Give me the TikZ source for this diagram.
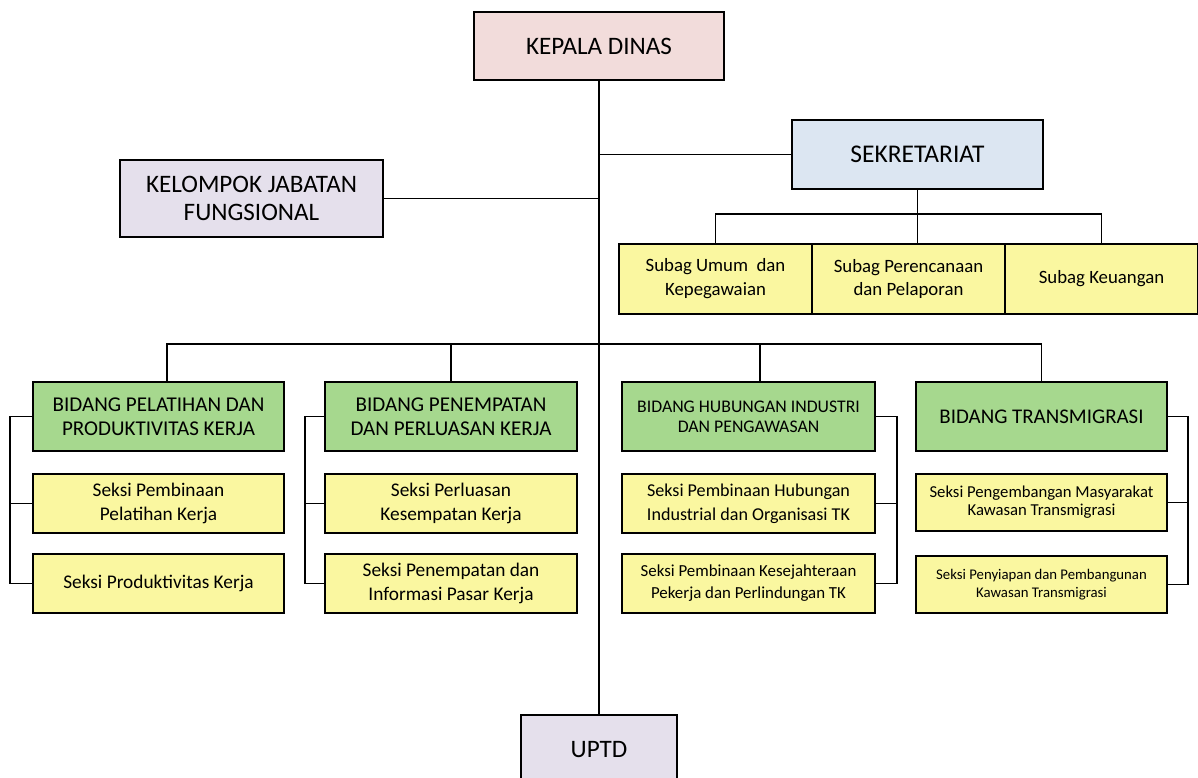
\documentclass[tikz,border=0pt]{standalone}
\usepackage{fontspec}
\setmainfont{Carlito}
\usepackage{tikz}

\definecolor{kdpink}{HTML}{F2DCDB}
\definecolor{sekblue}{HTML}{DCE6F2}
\definecolor{lavender}{HTML}{E5E0EC}
\definecolor{bidgreen}{HTML}{A6D88E}
\definecolor{seksiyel}{HTML}{FAF7A0}

\newcommand{\px}{0.02cm}
\newcommand{\fs}[2]{\fontsize{#1}{#2}\selectfont}

\tikzset{
    box/.style={draw, line width=1.4pt, align=center, inner sep=0pt},
    link/.style={line width=0.6pt},
}

\begin{document}
\begin{tikzpicture}[x=0.02cm, y=-0.02cm]
            \useasboundingbox (0,0) rectangle (1198,778);

            % Top level
            \node at (599,46) [box, fill=kdpink, minimum width=250*\px, minimum height=68*\px, font=\fs{14.3}{16}] (KD) {KEPALA DINAS};
            \node at (917.5,154.5) [box, fill=sekblue, minimum width=251*\px, minimum height=69*\px, font=\fs{14.5}{15}] (SEK) {SEKRETARIAT};
            \node at (251.5,198.5) [box, fill=lavender, minimum width=263*\px, minimum height=77*\px, font=\fs{14.3}{16.4}] (KJF) {KELOMPOK JABATAN\\FUNGSIONAL};
            \node at (599,750) [box, fill=lavender, minimum width=156*\px, minimum height=70*\px, font=\fs{14.3}{16}] (UPTD) {UPTD};

            % Subag boxes
            \node at (715.5,279) [box, fill=seksiyel, minimum width=193*\px, minimum height=70*\px, font=\fs{10.7}{13.6}] (SU) {Subag Umum~ dan\\Kepegawaian};
            \node at (908.5,279) [box, fill=seksiyel, minimum width=193*\px, minimum height=70*\px, font=\fs{10.7}{13.6}] (SP) {Subag Perencanaan\\dan Pelaporan};
            \node at (1101.5,279) [box, fill=seksiyel, minimum width=193*\px, minimum height=70*\px, font=\fs{10.7}{13.6}] (SK) {Subag Keuangan};

            % Bidang boxes
            \node at (158.5,416.5) [box, fill=bidgreen, minimum width=251*\px, minimum height=69*\px, font=\fs{12}{13.6}] (B1) {BIDANG PELATIHAN DAN\\PRODUKTIVITAS KERJA};
            \node at (451,416.5) [box, fill=bidgreen, minimum width=252*\px, minimum height=69*\px, font=\fs{12}{13.6}] (B2) {BIDANG PENEMPATAN\\DAN PERLUASAN KERJA};
            \node at (748.5,416.5) [box, fill=bidgreen, minimum width=253*\px, minimum height=69*\px, font=\fs{10.1}{11.4}] (B3) {BIDANG HUBUNGAN INDUSTRI\\DAN PENGAWASAN};
            \node at (1041.5,416.5) [box, fill=bidgreen, minimum width=251*\px, minimum height=69*\px, font=\fs{11.9}{13.6}] (B4) {BIDANG TRANSMIGRASI};

            % Seksi boxes
            \node at (158.5,503.5) [box, fill=seksiyel, minimum width=251*\px, minimum height=59*\px, font=\fs{11}{13.6}] (S11) {Seksi Pembinaan\\Pelatihan Kerja};
            \node at (158.5,583.5) [box, fill=seksiyel, minimum width=251*\px, minimum height=59*\px, font=\fs{11}{13.6}] (S12) {Seksi Produktivitas Kerja};
            \node at (451,503.5) [box, fill=seksiyel, minimum width=252*\px, minimum height=59*\px, font=\fs{11}{13.6}] (S21) {Seksi Perluasan\\Kesempatan Kerja};
            \node at (451,583.5) [box, fill=seksiyel, minimum width=252*\px, minimum height=59*\px, font=\fs{11}{13.6}] (S22) {Seksi Penempatan dan\\Informasi Pasar Kerja};
            \node at (748.5,503.5) [box, fill=seksiyel, minimum width=253*\px, minimum height=59*\px, font=\fs{10.3}{13.6}] (S31) {Seksi Pembinaan Hubungan\\Industrial dan Organisasi TK};
            \node at (748.5,583.5) [box, fill=seksiyel, minimum width=253*\px, minimum height=59*\px, font=\fs{9.6}{12.5}] (S32) {Seksi Pembinaan Kesejahteraan\\Pekerja dan Perlindungan TK};
            \node at (1041.5,502.5) [box, fill=seksiyel, minimum width=251*\px, minimum height=57*\px, font=\fs{9.5}{10.2}] (S41) {Seksi Pengembangan Masyarakat\\Kawasan Transmigrasi};
            \node at (1041.5,584.5) [box, fill=seksiyel, minimum width=251*\px, minimum height=57*\px, font=\fs{8.4}{10.5}] (S42) {Seksi Penyiapan dan Pembangunan\\Kawasan Transmigrasi};

            % Helper coordinates
            \coordinate (sekbus) at (917,214);
            \coordinate (bus) at (598,344);
            \coordinate (d1) at (167,0);
            \coordinate (d3) at (760,0);
            \coordinate (r1) at (10,0);
            \coordinate (r2) at (305,0);
            \coordinate (r3) at (897,0);
            \coordinate (r4) at (1188,0);

            % Main line
            \draw[link] (KD.south) -- (UPTD.north);
            \draw[link] (SEK.west) -- (SEK.west -| KD.south);
            \draw[link] (KJF.east) -- (KJF.east -| KD.south);

            % Sekretariat branch
            \draw[link] (SEK.south) -- (SEK.south |- SP.north);
            \draw[link] (SU.north) |- (sekbus) -| (SK.north);

            % Bidang branch
            \draw[link] (d1 |- B1.north) |- (bus) -| (B4.north);
            \draw[link] (B2.north) -- (B2.north |- bus);
            \draw[link] (d3 |- B3.north) -- (d3 |- bus);

            % Seksi brackets
            \draw[link] (B1.west) -- (B1.west -| r1) |- (S12.west);
            \draw[link] (S11.west) -- (S11.west -| r1);
            \draw[link] (B2.west) -- (B2.west -| r2) |- (S22.west);
            \draw[link] (S21.west) -- (S21.west -| r2);
            \draw[link] (B3.east) -- (B3.east -| r3) |- (S32.east);
            \draw[link] (S31.east) -- (S31.east -| r3);
            \draw[link] (B4.east) -- (B4.east -| r4) |- (S42.east);
            \draw[link] (S41.east) -- (S41.east -| r4);

\end{tikzpicture}
\end{document}
